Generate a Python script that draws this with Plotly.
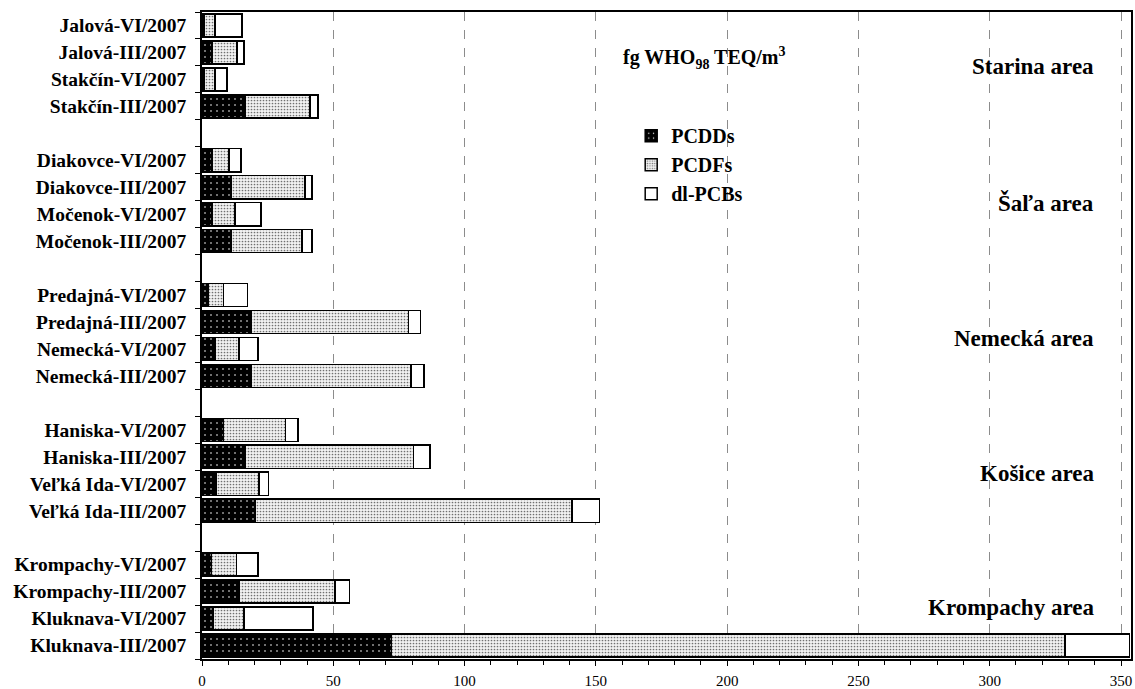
import plotly.graph_objects as go

# Categories listed from bottom to top (gaps separate the areas)
categories = [
    "Kluknava-III/2007", "Kluknava-VI/2007", "Krompachy-III/2007", "Krompachy-VI/2007", " ",
    "Veľká Ida-III/2007", "Veľká Ida-VI/2007", "Haniska-III/2007", "Haniska-VI/2007", "  ",
    "Nemecká-III/2007", "Nemecká-VI/2007", "Predajná-III/2007", "Predajná-VI/2007", "   ",
    "Močenok-III/2007", "Močenok-VI/2007", "Diakovce-III/2007", "Diakovce-VI/2007", "    ",
    "Stakčín-III/2007", "Stakčín-VI/2007", "Jalová-III/2007", "Jalová-VI/2007",
]

sites = [
    "Kluknava-III/2007", "Kluknava-VI/2007", "Krompachy-III/2007", "Krompachy-VI/2007",
    "Veľká Ida-III/2007", "Veľká Ida-VI/2007", "Haniska-III/2007", "Haniska-VI/2007",
    "Nemecká-III/2007", "Nemecká-VI/2007", "Predajná-III/2007", "Predajná-VI/2007",
    "Močenok-III/2007", "Močenok-VI/2007", "Diakovce-III/2007", "Diakovce-VI/2007",
    "Stakčín-III/2007", "Stakčín-VI/2007", "Jalová-III/2007", "Jalová-VI/2007",
]

pcdds = [72.2, 4.1, 14.2, 3.7,
         20.2, 5.6, 16.3, 8.2,
         18.6, 4.9, 18.6, 2.3,
         11.0, 3.8, 11.0, 3.8,
         16.3, 0.8, 3.8, 0.8]

pcdfs = [256.4, 11.9, 36.5, 9.5,
         120.8, 16.1, 64.2, 23.6,
         60.9, 9.1, 60.0, 5.9,
         27.0, 8.7, 28.2, 6.5,
         24.8, 4.1, 9.5, 4.1]

dlpcbs = [24.6, 26.2, 5.4, 8.1,
          10.3, 3.6, 6.3, 4.7,
          5.0, 7.3, 4.7, 9.2,
          3.8, 9.9, 2.6, 4.5,
          3.0, 4.6, 2.7, 10.3]

area_labels = ["Starina area", "Šaľa area", "Nemecká area", "Košice area", "Krompachy area"]
area_label_y = [0.915, 0.705, 0.496, 0.287, 0.079]

x_ticks = [0, 50, 100, 150, 200, 250, 300, 350]

SERIF = "Liberation Serif"
line = dict(color="black", width=1.5)

fig = go.Figure()
fig.add_trace(go.Bar(
    y=sites, x=pcdds, orientation="h", name="PCDDs",
    marker=dict(color="black", line=line,
                pattern=dict(shape=".", bgcolor="black", fgcolor="white",
                             size=6, solidity=0.06, fillmode="replace")),
))
fig.add_trace(go.Bar(
    y=sites, x=pcdfs, orientation="h", name="PCDFs",
    marker=dict(color="white", line=line,
                pattern=dict(shape=".", bgcolor="#f2f2f2", fgcolor="#707070",
                             size=3, solidity=0.25, fillmode="replace")),
))
fig.add_trace(go.Bar(
    y=sites, x=dlpcbs, orientation="h", name="dl-PCBs",
    marker=dict(color="white", line=line),
))

fig.update_layout(
    width=1135, height=689,
    margin=dict(l=202, r=4, t=12, b=30, autoexpand=False),
    barmode="stack", bargap=0.14,
    paper_bgcolor="white", plot_bgcolor="white",
    font=dict(family=SERIF, color="black"),
    showlegend=True,
    legend=dict(x=0.462, y=0.839, xanchor="left", yanchor="top",
                traceorder="normal", bgcolor="rgba(0,0,0,0)",
                font=dict(family=SERIF, size=20, weight="bold"),
                tracegroupgap=0),
)

fig.update_xaxes(
    range=[0, 353.8], tickvals=x_ticks, ticks="outside", ticklen=5,
    tickcolor="black", tickwidth=1, ticklabelstandoff=2, automargin=False,
    minor=dict(dtick=10, ticks="outside", ticklen=4, tickcolor="black", showgrid=False),
    showline=True, linecolor="black", linewidth=1.5, mirror=True,
    showgrid=True, gridcolor="#8c8c8c", griddash="dash", gridwidth=1,
    tickfont=dict(family=SERIF, size=15), zeroline=False, fixedrange=True,
)
fig.update_yaxes(
    type="category", categoryorder="array", categoryarray=categories,
    tickson="boundaries", ticks="outside", ticklen=5, tickcolor="black",
    ticklabelstandoff=10, automargin=False,
    showline=True, linecolor="black", linewidth=1.5, mirror=True,
    showgrid=False, tickfont=dict(family=SERIF, size=19.5, weight="bold"),
    fixedrange=True,
)

fig.add_annotation(
    text="fg WHO<sub>98</sub> TEQ/m<sup>3</sup>", xref="paper", yref="paper",
    x=0.541, y=0.929, xanchor="center", yanchor="middle", showarrow=False,
    font=dict(family=SERIF, size=20, weight="bold"),
)
for lab, yy in zip(area_labels, area_label_y):
    fig.add_annotation(
        text=lab, xref="paper", yref="paper", x=0.962, y=yy,
        xanchor="right", yanchor="middle", showarrow=False,
        font=dict(family=SERIF, size=23, weight="bold"),
    )

fig.write_html("out.html", config={"displayModeBar": False})

# Remove the browser's default page margin so the figure fills the window exactly
with open("out.html", "r", encoding="utf-8") as f:
    html = f.read()
html = html.replace("<head>", "<head><style>html,body{margin:0;padding:0;overflow:hidden;}</style>", 1)
with open("out.html", "w", encoding="utf-8") as f:
    f.write(html)
